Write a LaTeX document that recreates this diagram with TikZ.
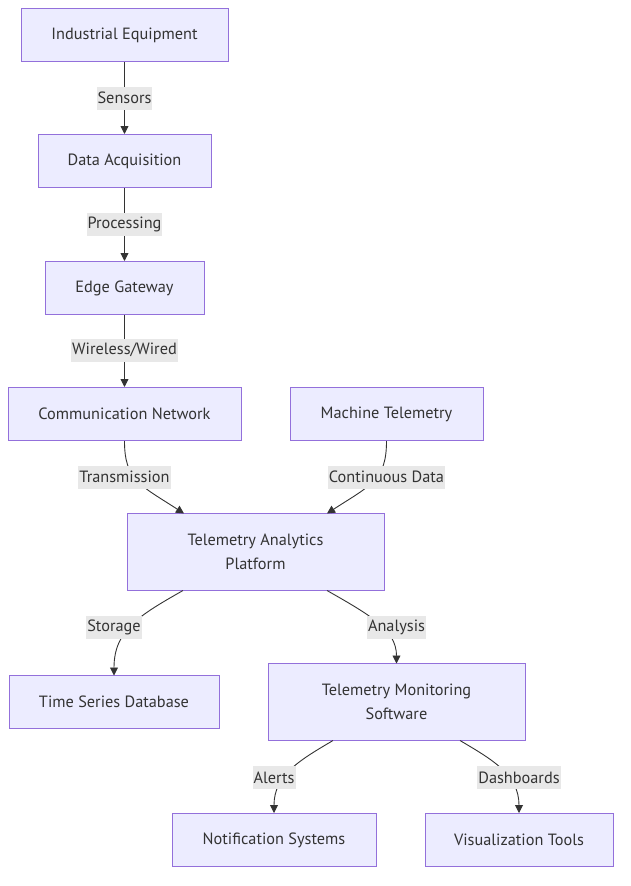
\documentclass[tikz,border=0pt]{standalone}
\usepackage{fontspec}
\setmainfont{PT Sans}
\usetikzlibrary{arrows.meta}
\definecolor{boxfill}{HTML}{ECECFF}
\definecolor{boxline}{HTML}{9370DB}
\definecolor{edgec}{HTML}{333333}
\definecolor{lblbg}{HTML}{E8E8E8}
\definecolor{txt}{HTML}{333333}
\begin{document}
\begin{tikzpicture}[x=1pt,y=-1pt,
  box/.style={draw=boxline,fill=boxfill,line width=1pt,inner sep=0pt,align=center,
    font=\fontsize{16.3}{24}\selectfont,text=txt},
  lbl/.style={fill=lblbg,inner xsep=1pt,inner ysep=0pt,minimum height=23pt,
    font=\fontsize{16.3}{24}\selectfont,text=txt},
  edge/.style={draw=edgec,line width=0.9pt,-{Triangle[length=8pt,width=8pt]}}]
\useasboundingbox (0,0) rectangle (630,886);
\node[box,minimum width=207pt,minimum height=53pt] (ie) at (124.5,35) {Industrial Equipment};
\node[box,minimum width=173pt,minimum height=53pt] (da) at (124.5,161) {Data Acquisition};
\node[box,minimum width=159pt,minimum height=53pt] (eg) at (124.5,288) {Edge Gateway};
\node[box,minimum width=233pt,minimum height=53pt] (cn) at (124.5,414) {Communication Network};
\node[box,minimum width=193pt,minimum height=53pt] (mt) at (386.5,414) {Machine Telemetry};
\node[box,minimum width=257pt,minimum height=77pt] (tap) at (255.5,552) {Telemetry Analytics\\Platform};
\node[box,minimum width=210pt,minimum height=53pt] (tsd) at (114,702) {Time Series Database};
\node[box,minimum width=257pt,minimum height=77pt] (tms) at (396.5,702) {Telemetry Monitoring\\Software};
\node[box,minimum width=204pt,minimum height=53pt] (ns) at (274,840) {Notification Systems};
\node[box,minimum width=188pt,minimum height=53pt] (vt) at (519,840) {Visualization Tools};

\coordinate (tapin1) at (184,513.5);
\coordinate (tapin2) at (327,513.5);
\coordinate (tapout1) at (183,590.5);
\coordinate (tapout2) at (327,590.5);
\coordinate (tsdin) at (114,675.5);
\coordinate (tmsin) at (396.5,663.5);
\coordinate (tmsout1) at (333,740.5);
\coordinate (tmsout2) at (460,740.5);

\draw[edge] (ie.south) -- (da.north);
\draw[edge] (da.south) -- (eg.north);
\draw[edge] (eg.south) -- (cn.north);
\draw[edge] (cn.south) .. controls (124.5,480) and (140,485) .. (tapin1);
\draw[edge] (mt.south) .. controls (386.5,480) and (371,485) .. (tapin2);
\draw[edge] (tapout1) .. controls (140,615) and (114,630) .. (tsdin);
\draw[edge] (tapout2) .. controls (370,615) and (396.5,630) .. (tmsin);
\draw[edge] (tmsout1) .. controls (300,760) and (274,775) .. (ns.north);
\draw[edge] (tmsout2) .. controls (493,760) and (519,775) .. (vt.north);

\node[lbl] (l1) at (124.5,98) {Sensors};
\node[lbl] (l2) at (124.5,224) {Processing};
\node[lbl] (l3) at (124.5,350) {Wireless/Wired};
\node[lbl] (l4) at (124.5,477) {Transmission};
\node[lbl] (l5) at (386.5,477) {Continuous Data};
\node[lbl] (l6) at (114,627.5) {Storage};
\node[lbl] (l7) at (396.5,627.5) {Analysis};
\node[lbl] (l8) at (274,777.5) {Alerts};
\node[lbl] (l9) at (519,777.5) {Dashboards};
\end{tikzpicture}
\end{document}
